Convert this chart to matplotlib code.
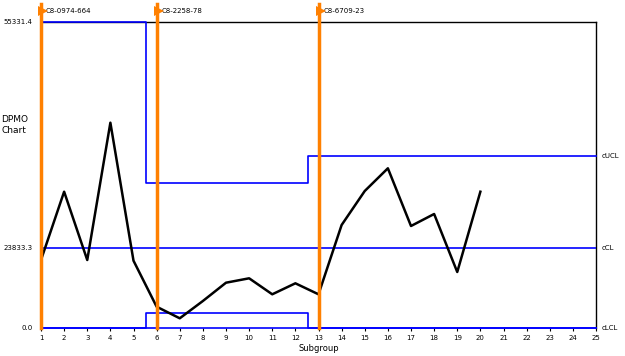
import matplotlib.pyplot as plt

# 子组编号与DPMO值
subgroups = list(range(1, 21))
dpmo = [20257, 40604, 20257, 61159, 20049, 6345, 2890, 8043, 13495, 14806,
        10039, 13316, 10039, 30684, 40812, 47575, 30386, 33961, 16682, 40604]

# 阶段分界与控制限
stage_edges = [1, 5.55, 12.55, 25]
ucl = [91157, 43106, 51239]
lcl = [0, 4379, 0]
cl = 23833.3
y_top = 91157

# 阶段标记（变更点）
flag_x = [1, 6, 13]
flag_labels = ["C8-0974-664", "C8-2258-78", "C8-6709-23"]

y_tick_pos = [0, cl, y_top]
y_tick_labels = ["0.0", "23833.3", "55331.4"]

blue = "#0000ff"
orange = "#ff8000"

fig = plt.figure(figsize=(6.25, 3.56), dpi=100)
ax = fig.add_axes([41 / 625, (356 - 328) / 356, (596 - 41) / 625, (328 - 22) / 356])


def step_path(values):
    xs, ys = [], []
    for i, v in enumerate(values):
        xs += [stage_edges[i], stage_edges[i + 1]]
        ys += [v, v]
    return xs, ys


ux, uy = step_path(ucl)
lx, ly = step_path(lcl)
ax.plot(ux, uy, color=blue, lw=1.2, clip_on=False, zorder=3)
ax.plot(lx, ly, color=blue, lw=1.2, clip_on=False, zorder=3)
ax.plot([1, 25], [cl, cl], color=blue, lw=1.2, zorder=3)

ax.plot(subgroups, dpmo, color="black", lw=1.8, zorder=3.5)

for x in flag_x:
    ax.axvline(x, color=orange, lw=2.5, ymax=1.06, clip_on=False, zorder=4)
for x, lab in zip(flag_x, flag_labels):
    ax.plot([x + 0.1], [y_top * 1.035], marker=">", color=orange, ms=7,
            mew=0, clip_on=False, zorder=5)
    ax.text(x + 0.2, y_top * 1.035, lab, fontsize=5, va="center", ha="left")

ax.set_xlim(1, 25)
ax.set_ylim(0, y_top)
ax.set_xticks(range(1, 26))
ax.tick_params(axis="x", labelsize=5, length=2, pad=3)
ax.set_yticks(y_tick_pos)
ax.set_yticklabels(y_tick_labels)
ax.tick_params(axis="y", labelsize=5, length=0, pad=6)
ax.set_xlabel("Subgroup", fontsize=6, labelpad=2)

for s in ["top", "right", "left"]:
    ax.spines[s].set_linewidth(1)
ax.spines["bottom"].set_color(blue)
ax.spines["bottom"].set_linewidth(1.2)

ax.text(1.01, 0, "cLCL", transform=ax.transAxes, fontsize=5, va="center")
ax.text(1.01, cl / y_top, "cCL", transform=ax.transAxes, fontsize=5, va="center")
ax.text(1.01, ucl[2] / y_top, "cUCL", transform=ax.transAxes, fontsize=5, va="center")

fig.text(1 / 625, 1 - 125 / 356, "DPMO\nChart", fontsize=6.5, va="center", ha="left")

fig.savefig("out.png", dpi=100)
